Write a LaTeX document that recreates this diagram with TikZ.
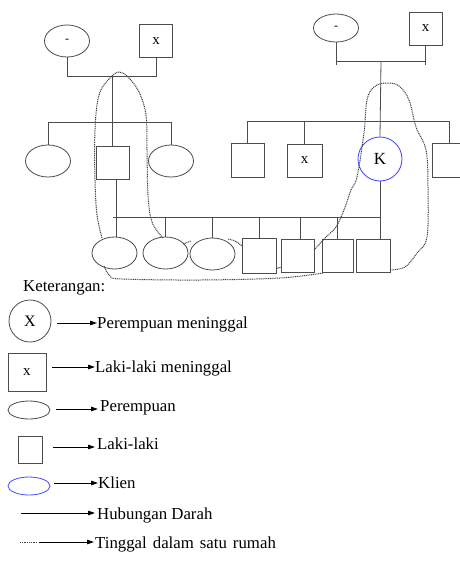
\documentclass[tikz,border=0pt]{standalone}
\usepackage{fontspec}
\setmainfont{Liberation Serif}
\usetikzlibrary{shapes.geometric,arrows.meta,calc}
\begin{document}
\begin{tikzpicture}[x=1pt,y=-1pt,
  ln/.style={draw=black!70, line width=0.8pt},
  fem/.style={ellipse, draw=black!70, line width=0.8pt, inner sep=0pt, minimum width=45pt, minimum height=32pt},
  mal/.style={rectangle, draw=black!70, line width=0.8pt, inner sep=0pt, minimum width=33pt, minimum height=33pt},
  home/.style={draw=black!75, line width=1pt, dash pattern=on 1pt off 0.8pt},
  arr/.style={draw=black, line width=0.8pt, -{Triangle[length=7pt,width=4.5pt]}},
  lbl/.style={anchor=base west, inner sep=0pt, font=\fontsize{16.8}{18}\selectfont},
  sym/.style={font=\fontsize{15}{15}\selectfont}]
\fill[white] (0,0) rectangle (459,571);
\useasboundingbox (0,0) rectangle (459,571);

% ---- generation 1 (left)
\node[fem, font=\fontsize{12}{12}\selectfont] (g1a) at (67,41) {-};
\node[mal, sym] (g1b) at (156,41) {x};
\coordinate (m1) at (112,76);
\draw[ln] (g1a.south) -- (g1a.south |- m1) -- (g1b.south |- m1) -- (g1b.south);

% ---- generation 2 (left)
\node[fem] (e21) at (48,161) {};
\node[mal] (s22) at (112.5,162.5) {};
\node[fem] (e23) at (171,161) {};
\draw[ln] (m1) -- (m1 |- s22.north);
\draw[ln] (e21.north) -- ++(0,-22) -| (e23.north);

% ---- generation 1 (right)
\node[fem, minimum height=28pt, font=\fontsize{12}{12}\selectfont] (g1c) at (336,28) {-};
\node[mal, sym] (g1d) at (425.5,28.5) {x};
\coordinate (m2) at (381,61);
\coordinate (t2) at (381,65);
\draw[ln] (g1c.south) -- (g1c.south |- t2);
\draw[ln] (g1d.south) -- (g1d.south |- t2);
\draw[ln] (g1c.south |- m2) -- (g1d.south |- m2);

% ---- generation 2 (right)
\node[mal, minimum height=34pt] (r1) at (247.5,160) {};
\node[mal, minimum width=35pt, sym] (r2) at (304.5,160.5) {x};
\node[circle, draw=blue!75, line width=0.8pt, minimum size=44pt, inner sep=0pt, font=\fontsize{17}{17}\selectfont] (K) at (380,159) {K};
\node[mal, minimum width=34pt, minimum height=34pt] (r4) at (449,160) {};
\coordinate (sib2) at (381,121);
\draw[ln] (m2) -- (K.north);
\draw[ln] (r1.north) -- (r1.north |- sib2) -- (r4.north |- sib2) -- (r4.north);
\draw[ln] (r2.north) -- (r2.north |- sib2);

% ---- generation 3
\node[fem] (e31) at (114.5,253) {};
\node[fem] (e32) at (165.5,253) {};
\node[fem] (e33) at (212.5,254) {};
\node[mal, minimum width=34pt, minimum height=35pt] (q1) at (259,255.5) {};
\node[mal] (q2) at (297.5,255.5) {};
\node[mal, minimum width=31pt] (q3) at (337.5,255.5) {};
\node[mal, minimum width=34pt] (q4) at (373,255.5) {};
\coordinate (h3) at (113,217);
\draw[ln] ([xshift=3.5pt]s22.south) -- ([xshift=3.5pt]s22.south |- e31.north);
\draw[ln] (h3) -- (K.south |- h3);
\draw[ln] (K.south) -- (K.south |- q4.north);
\draw[ln] (e32.north) -- (e32.north |- h3);
\draw[ln] (e33.north) -- (e33.north |- h3);
\draw[ln] (q1.north) -- (q1.north |- h3);
\draw[ln] ([xshift=2.5pt]q2.north) -- ([xshift=2.5pt]q2.north |- h3);
\draw[ln] (q3.north) -- (q3.north |- h3);
\draw[ln] ([yshift=5pt]q1.south east) -- ([yshift=5pt]q2.south west);

% ---- household (dotted)
\draw[home] plot[smooth, tension=0.6] coordinates {(102,238) (97,215) (95,180) (95,130) (99,95) (110,78) (119,72) (128,77) (139,92) (146,115) (147,150) (148,195) (152,222) (163,238)};
\draw[home] plot[smooth, tension=0.6] coordinates {(104,266) (110,276) (122,279) (200,280) (280,278) (323,273)};
\draw[home] (183,244) -- (191,241);
\draw[home] (228,239) .. controls (236,241) .. (242,246);
\draw[home] plot[smooth, tension=0.6] coordinates {(314,250) (326,237) (336,227) (344,210) (351,190) (357,177) (364,133) (367,100) (374,87) (386,83) (399,86) (409,100) (416,127) (426,150) (428,187) (427,237) (417,253) (405,267) (390,270)};

% ---- legend
\node[lbl] (ket) at (23,291) {Keterangan:};

\node[circle, draw=black!70, line width=0.8pt, minimum size=42pt, inner sep=0pt, font=\fontsize{16}{16}\selectfont] (lc) at (30,321) {X};
\node[lbl] (t1) at (97,328) {Perempuan meninggal};
\coordinate (a1) at (57,323);
\draw[arr] (a1) -- (a1 -| t1.west);

\node[mal, minimum width=38pt, minimum height=38pt, sym] (ls) at (27,372) {x};
\node[lbl] (t2l) at (95,372) {Laki-laki meninggal};
\coordinate (a2) at (52,367);
\draw[arr] (a2) -- (a2 -| t2l.west);

\node[ellipse, draw=black!70, line width=0.8pt, minimum width=42pt, minimum height=18pt, inner sep=0pt] (le) at (29,410) {};
\node[lbl] (t3) at (100,411) {Perempuan};
\coordinate (a3) at (56,409);
\draw[arr] (a3) -- ([xshift=-2pt]a3 -| t3.west);

\node[mal, minimum width=24pt, minimum height=27pt] (ll) at (30,450) {};
\node[lbl] (t4) at (97,449) {Laki-laki};
\coordinate (a4) at (53,447);
\draw[arr] (a4) -- ([xshift=-2pt]a4 -| t4.west);

\node[ellipse, draw=blue!70, line width=0.8pt, minimum width=42pt, minimum height=18pt, inner sep=0pt] (lk) at (29,486) {};
\node[lbl] (t5) at (98,488) {Klien};
\coordinate (a5) at (54,483);
\draw[arr] (a5) -- (a5 -| t5.west);

\coordinate (s6a) at (21,513);
\coordinate (s6b) at (47,513);
\node[lbl] (t6) at (97,519) {Hubungan Darah};
\draw[draw=black, line width=1pt] (s6a) -- (s6b);
\draw[arr] (s6b) -- ([xshift=-2pt]s6b -| t6.west);

\coordinate (s7a) at (20,542);
\coordinate (s7b) at (37,542);
\node[lbl] (t7) at (95,548) {\spaceskip=6pt plus 1pt\relax Tinggal dalam satu rumah};
\draw[home] (s7a) -- (s7b);
\coordinate (a7) at (39,542);
\draw[arr] (a7) -- ([xshift=-1pt]a7 -| t7.west);
\end{tikzpicture}
\end{document}
